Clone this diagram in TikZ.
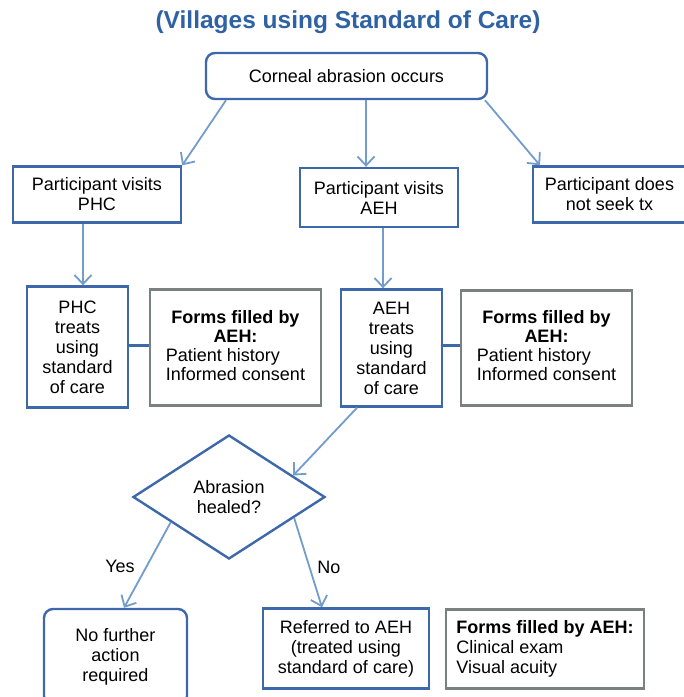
\documentclass[tikz,border=0pt]{standalone}
\usepackage{fontspec}
\setmainfont{Liberation Sans}
\usetikzlibrary{shapes.geometric,arrows.meta,calc}
\definecolor{boxblue}{HTML}{3D68AA}
\definecolor{arrblue}{HTML}{729CCB}
\definecolor{titleblue}{HTML}{2F62A4}
\definecolor{formgray}{HTML}{7B8081}
\tikzset{
  bluebox/.style={draw=boxblue, line width=2.4pt, align=center, inner sep=2pt},
  graybox/.style={draw=formgray, line width=2.4pt, inner sep=2pt},
  roundbox/.style={bluebox, rounded corners=9pt},
  arr/.style={draw=arrblue, line width=1.8pt, -{Straight Barb[length=9pt,width=17pt,line width=1.8pt]}},
  link/.style={draw=boxblue, line width=3pt},
  txt/.style={font=\fontsize{18}{20}\selectfont},
}
\begin{document}
\begin{tikzpicture}[x=1pt,y=-1pt,txt]
\useasboundingbox (0,0) rectangle (684,697);
\node[font=\fontsize{24.5}{28}\selectfont\bfseries, text=titleblue] (title) at (348,22) {(Villages using Standard of Care)};
\node[roundbox, minimum width=281, minimum height=46] (top) at (346.5,76) {Corneal abrasion occurs};
\node[bluebox, minimum width=168, minimum height=56] (phcv) at (97,194.5) {Participant visits\\PHC};
\node[bluebox, minimum width=158, minimum height=59] (aehv) at (379,197.5) {Participant visits\\AEH};
\node[bluebox, minimum width=153, minimum height=56] (none) at (609.5,194.5) {Participant does\\not seek tx};
\node[bluebox, minimum width=101, minimum height=121] (phct) at (77.5,347) {PHC\\treats\\using\\standard\\of care};
\node[graybox, minimum width=171, minimum height=116] (f1) at (235.5,347.5) {\begin{tabular}{@{}l@{}}\multicolumn{1}{@{}c@{}}{\bfseries Forms filled by}\\[-1pt]\multicolumn{1}{@{}c@{}}{\bfseries AEH:}\\[-1pt]Patient history\\[-1pt]Informed consent\end{tabular}};
\node[bluebox, minimum width=101, minimum height=117] (aeht) at (391.5,348) {AEH\\treats\\using\\standard\\of care};
\node[graybox, minimum width=171, minimum height=115] (f2) at (546.5,348) {\begin{tabular}{@{}l@{}}\multicolumn{1}{@{}c@{}}{\bfseries Forms filled by}\\[-1pt]\multicolumn{1}{@{}c@{}}{\bfseries AEH:}\\[-1pt]Patient history\\[-1pt]Informed consent\end{tabular}};
\node[diamond, draw=boxblue, line width=2.4pt, minimum width=192, minimum height=124, inner sep=0pt, align=center] (dia) at (229,497) {Abrasion\\healed?};
\node[roundbox, minimum width=143, minimum height=96] (nofa) at (115.5,657) {No further\\action\\required};
\node[bluebox, minimum width=166, minimum height=80] (ref) at (346,648.5) {Referred to AEH\\(treated using\\standard of care)};
\node[graybox, minimum width=198, minimum height=79, align=left] (f3) at (545,649) {\textbf{Forms filled by AEH:}\\Clinical exam\\Visual acuity};
% connectors
\draw[arr] (top.south -| 226,0) -- (phcv.north east);
\draw[arr] (top.south -| 366,0) -- (aehv.north -| 366,0);
\draw[arr] (top.south -| 485,0) -- (none.north -| 540,0);
\draw[arr] (phcv.south -| 83,0) -- (phct.north -| 83,0);
\draw[arr] (aehv.south -| 383,0) -- (aeht.north -| 383,0);
\draw[link] (phct.east |- 0,345) -- (f1.west |- 0,345);
\draw[link] (aeht.east |- 0,345) -- (f2.west |- 0,345);
\draw[arr] (aeht.south -| 357,0) -- ($(dia.north)!0.66!(dia.east)$);
\draw[arr] ($(dia.west)!0.4!(dia.south)$) -- (nofa.north -| 124,0);
\draw[arr] ($(dia.east)!0.33!(dia.south)$) -- (ref.north -| 322,0);
\node (yes) at (120,566) {Yes};
\node (no) at (329,567) {No};
\end{tikzpicture}
\end{document}
